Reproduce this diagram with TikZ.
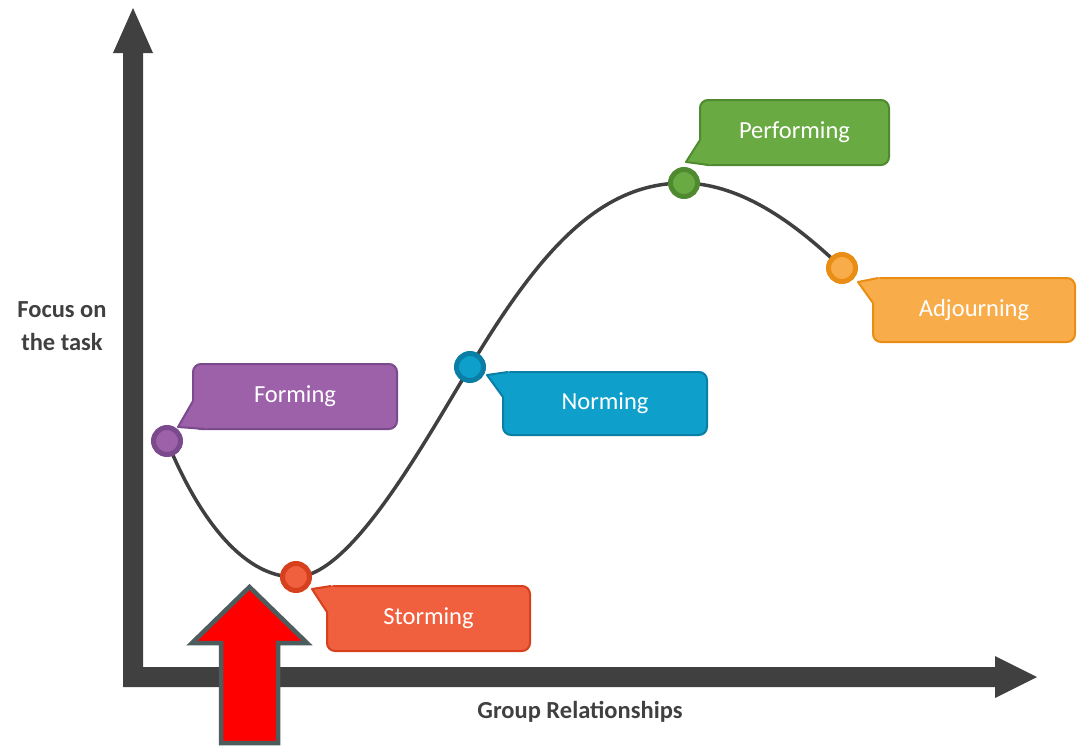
\documentclass[tikz,border=0pt]{standalone}
\usepackage{fontspec}
\setmainfont{Carlito}
\usetikzlibrary{calc}
\definecolor{axisgray}{HTML}{404040}
\definecolor{formF}{HTML}{9C61A8}\definecolor{formD}{HTML}{7A4A8C}
\definecolor{stormF}{HTML}{F0603E}\definecolor{stormD}{HTML}{D6401C}
\definecolor{normF}{HTML}{0EA0CB}\definecolor{normD}{HTML}{0B7EA6}
\definecolor{perfF}{HTML}{6AAA42}\definecolor{perfD}{HTML}{4F8A30}
\definecolor{adjF}{HTML}{F8AC4A}\definecolor{adjD}{HTML}{EA8D14}
\definecolor{arrowedge}{HTML}{4D5C5C}
\tikzset{
  box/.style={rectangle, rounded corners=8pt, line width=2pt, inner sep=0pt},
  lbl/.style={text=white, font=\fontsize{24.5}{28}\selectfont, inner sep=0pt},
  dot/.style={circle, line width=5pt, inner sep=0pt, minimum size=27pt},
  axislbl/.style={text=axisgray, font=\bfseries\fontsize{24.5}{33}\selectfont, align=center},
  curveline/.style={draw=axisgray, line width=3.5pt},
}
\newcommand\stagebox[8]{%
  \node[box, fill=#4F, draw=#4D, #3] (#1) at #2 {};
  \coordinate (#1b1) at #5; \coordinate (#1tip) at #6; \coordinate (#1b2) at #7;
  \fill[#4F] (#1b1) -- (#1tip) -- (#1b2) -- (#1.center) -- cycle;
  \draw[#4D, line width=2pt, line join=round] (#1b1) -- (#1tip) -- (#1b2);
  \node[lbl] (#1t) at (#1.center) {#8};
}
\begin{document}
\begin{tikzpicture}[x=1pt,y=-1pt]
\useasboundingbox (0,0) rectangle (1077,750);
% axes
\fill[axisgray] (123,687) -- (123,53) -- (113,53) -- (133,8) -- (153,53) -- (143,53)
  -- (143,667) -- (995,667) -- (995,656) -- (1037,677) -- (995,698) -- (995,687) -- cycle;
\node[axislbl] (ylab) at (62,326) {Focus on\\the task};
\node[axislbl] (xlab) at (580,712) {Group Relationships};
% stage points
\coordinate (pF) at (167,441);
\coordinate (pS) at (296,577);
\coordinate (pN) at (470,367);
\coordinate (pP) at (684,183);
\coordinate (pA) at (842,268);
% curve
\draw[curveline] (pF) .. controls (195,510) and (240,578) .. (pS)
  .. controls (350,576) and (420,450) .. (pN)
  .. controls (540,250) and (600,183) .. (pP)
  .. controls (745,184) and (800,228) .. (pA);
% red arrow
\draw[fill=red, draw=arrowedge, line width=4.5pt, line join=miter]
  (221,743) -- (221,643) -- (192,643) -- (249.5,587) -- (307,643) -- (278,643) -- (278,743) -- cycle;
% callouts
\stagebox{forming}{(295,396.5)}{minimum width=204pt, minimum height=65pt}{form}{(193,401)}{(178,427)}{(205,429)}{Forming}
\stagebox{storming}{(428.5,618.5)}{minimum width=203pt, minimum height=65pt}{storm}{(331,586)}{(312,589)}{(327,612)}{Storming}
\stagebox{norming}{(605,403.5)}{minimum width=204pt, minimum height=63pt}{norm}{(508,372)}{(487,375)}{(503,397)}{Norming}
\stagebox{performing}{(794.5,132.5)}{minimum width=189pt, minimum height=65pt}{perf}{(700,140)}{(686,162)}{(709,165)}{Performing}
\stagebox{adjourning}{(974,310)}{minimum width=202pt, minimum height=64pt}{adj}{(878,278)}{(858,282)}{(873,303)}{Adjourning}
% dots
\node[dot, fill=formF, draw=formD] (dF) at (pF) {};
\node[dot, fill=stormF, draw=stormD] (dS) at (pS) {};
\node[dot, fill=normF, draw=normD] (dN) at (pN) {};
\node[dot, fill=perfF, draw=perfD] (dP) at (pP) {};
\node[dot, fill=adjF, draw=adjD] (dA) at (pA) {};
\end{tikzpicture}
\end{document}
